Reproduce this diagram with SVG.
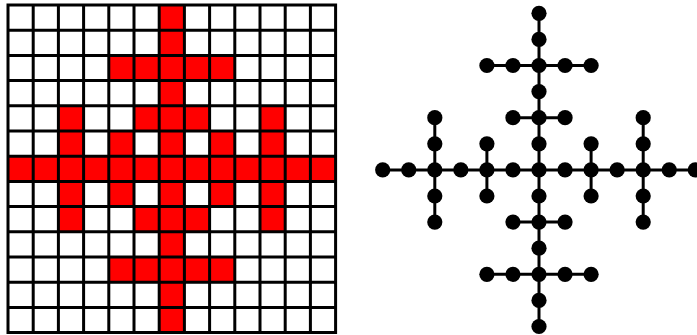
<svg xmlns="http://www.w3.org/2000/svg" width="697" height="335" viewBox="0 0 697 335">
<style>
.cell{fill:#ff0000}
.grid{fill:none;stroke:#000;stroke-width:3}
.edge{stroke:#000;stroke-width:3}
.node{fill:#000}
</style>
<defs>
<circle id="dot" r="7.6" class="node"/>
</defs>
<rect width="697" height="335" fill="#fff"/>
<g id="grid">
<rect x="8" y="5" width="327.6" height="327.6" fill="#fff"/>
<g id="red-cells" class="cell">
<rect x="159.2" y="5" width="25.2" height="25.2"/>
<rect x="159.2" y="30.2" width="25.2" height="25.2"/>
<rect x="108.8" y="55.4" width="126" height="25.2"/>
<rect x="159.2" y="80.6" width="25.2" height="25.2"/>
<rect x="58.4" y="105.8" width="25.2" height="25.2"/>
<rect x="134" y="105.8" width="75.6" height="25.2"/>
<rect x="260" y="105.8" width="25.2" height="25.2"/>
<rect x="58.4" y="131" width="25.2" height="25.2"/>
<rect x="108.8" y="131" width="25.2" height="25.2"/>
<rect x="159.2" y="131" width="25.2" height="25.2"/>
<rect x="209.6" y="131" width="25.2" height="25.2"/>
<rect x="260" y="131" width="25.2" height="25.2"/>
<rect x="8" y="156.2" width="327.6" height="25.2"/>
<rect x="58.4" y="181.4" width="25.2" height="25.2"/>
<rect x="108.8" y="181.4" width="25.2" height="25.2"/>
<rect x="159.2" y="181.4" width="25.2" height="25.2"/>
<rect x="209.6" y="181.4" width="25.2" height="25.2"/>
<rect x="260" y="181.4" width="25.2" height="25.2"/>
<rect x="58.4" y="206.6" width="25.2" height="25.2"/>
<rect x="134" y="206.6" width="75.6" height="25.2"/>
<rect x="260" y="206.6" width="25.2" height="25.2"/>
<rect x="159.2" y="231.8" width="25.2" height="25.2"/>
<rect x="108.8" y="257" width="126" height="25.2"/>
<rect x="159.2" y="282.2" width="25.2" height="25.2"/>
<rect x="159.2" y="307.4" width="25.2" height="25.2"/>
</g>
<path class="grid" d="M8 5V332.6M33.2 5V332.6M58.4 5V332.6M83.6 5V332.6M108.8 5V332.6M134 5V332.6M159.2 5V332.6M184.4 5V332.6M209.6 5V332.6M234.8 5V332.6M260 5V332.6M285.2 5V332.6M310.4 5V332.6M335.6 5V332.6M8 5H335.6M8 30.2H335.6M8 55.4H335.6M8 80.6H335.6M8 105.8H335.6M8 131H335.6M8 156.2H335.6M8 181.4H335.6M8 206.6H335.6M8 231.8H335.6M8 257H335.6M8 282.2H335.6M8 307.4H335.6M8 332.6H335.6" stroke-linecap="square"/>
</g>
<g id="connectors" class="edge">
<line x1="539" y1="13.3" x2="539" y2="326.5"/>
<line x1="382.7" y1="169.9" x2="695.3" y2="169.9"/>
<line x1="486.9" y1="65.5" x2="591.1" y2="65.5"/>
<line x1="512.95" y1="117.7" x2="565.05" y2="117.7"/>
<line x1="512.95" y1="222.1" x2="565.05" y2="222.1"/>
<line x1="486.9" y1="274.3" x2="591.1" y2="274.3"/>
<line x1="434.8" y1="117.7" x2="434.8" y2="222.1"/>
<line x1="643.2" y1="117.7" x2="643.2" y2="222.1"/>
<line x1="486.9" y1="143.8" x2="486.9" y2="196"/>
<line x1="591.1" y1="143.8" x2="591.1" y2="196"/>
</g>
<g id="nodes">
<g id="n0-6"><use href="#dot" x="539" y="13.3"/></g>
<g id="n1-6"><use href="#dot" x="539" y="39.4"/></g>
<g id="n2-4"><use href="#dot" x="486.9" y="65.5"/></g>
<g id="n2-5"><use href="#dot" x="512.95" y="65.5"/></g>
<g id="n2-6"><use href="#dot" x="539" y="65.5"/></g>
<g id="n2-7"><use href="#dot" x="565.05" y="65.5"/></g>
<g id="n2-8"><use href="#dot" x="591.1" y="65.5"/></g>
<g id="n3-6"><use href="#dot" x="539" y="91.6"/></g>
<g id="n4-2"><use href="#dot" x="434.8" y="117.7"/></g>
<g id="n4-5"><use href="#dot" x="512.95" y="117.7"/></g>
<g id="n4-6"><use href="#dot" x="539" y="117.7"/></g>
<g id="n4-7"><use href="#dot" x="565.05" y="117.7"/></g>
<g id="n4-10"><use href="#dot" x="643.2" y="117.7"/></g>
<g id="n5-2"><use href="#dot" x="434.8" y="143.8"/></g>
<g id="n5-4"><use href="#dot" x="486.9" y="143.8"/></g>
<g id="n5-6"><use href="#dot" x="539" y="143.8"/></g>
<g id="n5-8"><use href="#dot" x="591.1" y="143.8"/></g>
<g id="n5-10"><use href="#dot" x="643.2" y="143.8"/></g>
<g id="n6-0"><use href="#dot" x="382.7" y="169.9"/></g>
<g id="n6-1"><use href="#dot" x="408.75" y="169.9"/></g>
<g id="n6-2"><use href="#dot" x="434.8" y="169.9"/></g>
<g id="n6-3"><use href="#dot" x="460.85" y="169.9"/></g>
<g id="n6-4"><use href="#dot" x="486.9" y="169.9"/></g>
<g id="n6-5"><use href="#dot" x="512.95" y="169.9"/></g>
<g id="n6-6"><use href="#dot" x="539" y="169.9"/></g>
<g id="n6-7"><use href="#dot" x="565.05" y="169.9"/></g>
<g id="n6-8"><use href="#dot" x="591.1" y="169.9"/></g>
<g id="n6-9"><use href="#dot" x="617.15" y="169.9"/></g>
<g id="n6-10"><use href="#dot" x="643.2" y="169.9"/></g>
<g id="n6-11"><use href="#dot" x="669.25" y="169.9"/></g>
<g id="n6-12"><use href="#dot" x="695.3" y="169.9"/></g>
<g id="n7-2"><use href="#dot" x="434.8" y="196"/></g>
<g id="n7-4"><use href="#dot" x="486.9" y="196"/></g>
<g id="n7-6"><use href="#dot" x="539" y="196"/></g>
<g id="n7-8"><use href="#dot" x="591.1" y="196"/></g>
<g id="n7-10"><use href="#dot" x="643.2" y="196"/></g>
<g id="n8-2"><use href="#dot" x="434.8" y="222.1"/></g>
<g id="n8-5"><use href="#dot" x="512.95" y="222.1"/></g>
<g id="n8-6"><use href="#dot" x="539" y="222.1"/></g>
<g id="n8-7"><use href="#dot" x="565.05" y="222.1"/></g>
<g id="n8-10"><use href="#dot" x="643.2" y="222.1"/></g>
<g id="n9-6"><use href="#dot" x="539" y="248.2"/></g>
<g id="n10-4"><use href="#dot" x="486.9" y="274.3"/></g>
<g id="n10-5"><use href="#dot" x="512.95" y="274.3"/></g>
<g id="n10-6"><use href="#dot" x="539" y="274.3"/></g>
<g id="n10-7"><use href="#dot" x="565.05" y="274.3"/></g>
<g id="n10-8"><use href="#dot" x="591.1" y="274.3"/></g>
<g id="n11-6"><use href="#dot" x="539" y="300.4"/></g>
<g id="n12-6"><use href="#dot" x="539" y="326.5"/></g>
</g>
</svg>
